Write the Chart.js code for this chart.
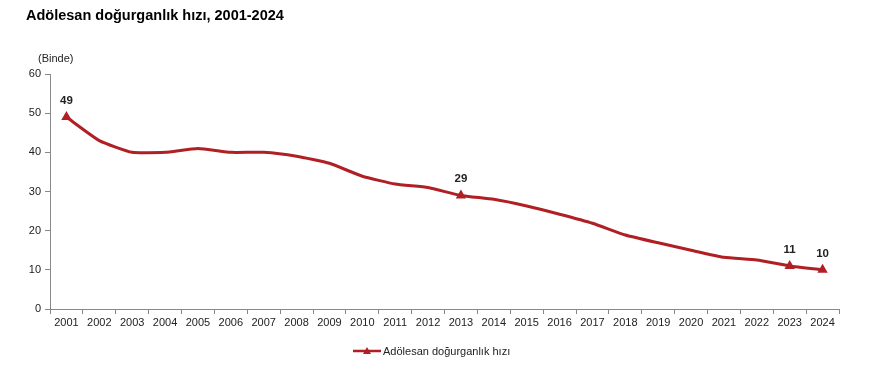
<!DOCTYPE html>
<html lang="tr">
<head>
    <meta charset="UTF-8">
    <title>Adölesan doğurganlık hızı, 2001-2024</title>
    <script src="https://cdn.jsdelivr.net/npm/chart.js"></script>
    <style>
        * { margin: 0; padding: 0; box-sizing: border-box; }
        body { background: #fff; width: 883px; height: 370px; overflow: hidden; }
        #wrap { position: relative; width: 883px; height: 370px; }
    </style>
</head>
<body>
    <div id="wrap"><canvas id="chart" width="883" height="370"></canvas></div>

    <script>
        // veriler
        const years = ['2001','2002','2003','2004','2005','2006','2007','2008','2009','2010','2011','2012',
                       '2013','2014','2015','2016','2017','2018','2019','2020','2021','2022','2023','2024'];
        const rates = [49, 43, 40, 40, 41, 40, 40, 39, 37.2, 33.9, 31.9, 31,
                       29, 28, 26.3, 24.2, 21.9, 18.9, 16.9, 15, 13.2, 12.5, 11, 10];
        // etiket + üçgen gösterilen yıllar
        const labelled = ['2001', '2013', '2023', '2024'];
        const yTicks = [0, 10, 20, 30, 40, 50, 60];

        const red = '#b01f24';
        const font = "'Liberation Sans', Arial, sans-serif";

        // başlık, birim, değer etiketleri ve açıklama
        const extras = {
            id: 'extras',
            afterDraw(chart) {
                const ctx = chart.ctx;
                const meta = chart.getDatasetMeta(0);
                ctx.save();
                ctx.fillStyle = '#000';
                ctx.font = 'bold 14.5px ' + font;
                ctx.textBaseline = 'alphabetic';
                ctx.textAlign = 'left';
                ctx.fillText('Adölesan doğurganlık hızı, 2001-2024', 26, 20);

                ctx.font = '11px ' + font;
                ctx.fillStyle = '#222';
                ctx.fillText('(Binde)', 38, 62);

                ctx.font = 'bold 11.5px ' + font;
                ctx.textAlign = 'center';
                meta.data.forEach((pt, i) => {
                    if (labelled.includes(years[i])) {
                        ctx.fillText(String(Math.round(rates[i])), pt.x, pt.y - 13);
                    }
                });

                // açıklama
                const lx = 353, ly = 351;
                ctx.strokeStyle = red;
                ctx.lineWidth = 2.5;
                ctx.beginPath();
                ctx.moveTo(lx, ly);
                ctx.lineTo(lx + 28, ly);
                ctx.stroke();
                ctx.fillStyle = red;
                ctx.beginPath();
                ctx.moveTo(lx + 14, ly - 4);
                ctx.lineTo(lx + 18, ly + 3);
                ctx.lineTo(lx + 10, ly + 3);
                ctx.closePath();
                ctx.fill();
                ctx.fillStyle = '#222';
                ctx.font = '11px ' + font;
                ctx.textAlign = 'left';
                ctx.textBaseline = 'middle';
                ctx.fillText('Adölesan doğurganlık hızı', lx + 30, ly + 1);
                ctx.restore();
            }
        };

        new Chart(document.getElementById('chart'), {
            type: 'line',
            data: {
                labels: years,
                datasets: [{
                    label: 'Adölesan doğurganlık hızı',
                    data: rates,
                    borderColor: red,
                    backgroundColor: red,
                    borderWidth: 3,
                    tension: 0.15,
                    pointStyle: 'triangle',
                    pointRadius: years.map(y => labelled.includes(y) ? 6 : 0),
                    pointHoverRadius: 0,
                    pointBorderWidth: 0
                }]
            },
            options: {
                responsive: false,
                animation: false,
                layout: { padding: { top: 74, right: 44, bottom: 36, left: 0 } },
                plugins: { legend: { display: false }, tooltip: { enabled: false } },
                scales: {
                    x: {
                        offset: true,
                        afterFit: s => { s.height = 25; },
                        grid: { offset: true, drawOnChartArea: false, drawTicks: true, tickLength: 5, color: '#888' },
                        border: { color: '#888' },
                        ticks: { color: '#222', font: { family: font, size: 11 }, maxRotation: 0, autoSkip: false, padding: 2 }
                    },
                    y: {
                        min: 0, max: 60,
                        afterFit: s => { s.width = 50; },
                        afterBuildTicks: s => { s.ticks = yTicks.map(v => ({ value: v })); },
                        grid: { drawOnChartArea: false, drawTicks: true, tickLength: 5, color: '#888' },
                        border: { color: '#888' },
                        ticks: { color: '#222', font: { family: font, size: 11 }, padding: 4 }
                    }
                }
            },
            plugins: [extras]
        });
    </script>
</body>
</html>
